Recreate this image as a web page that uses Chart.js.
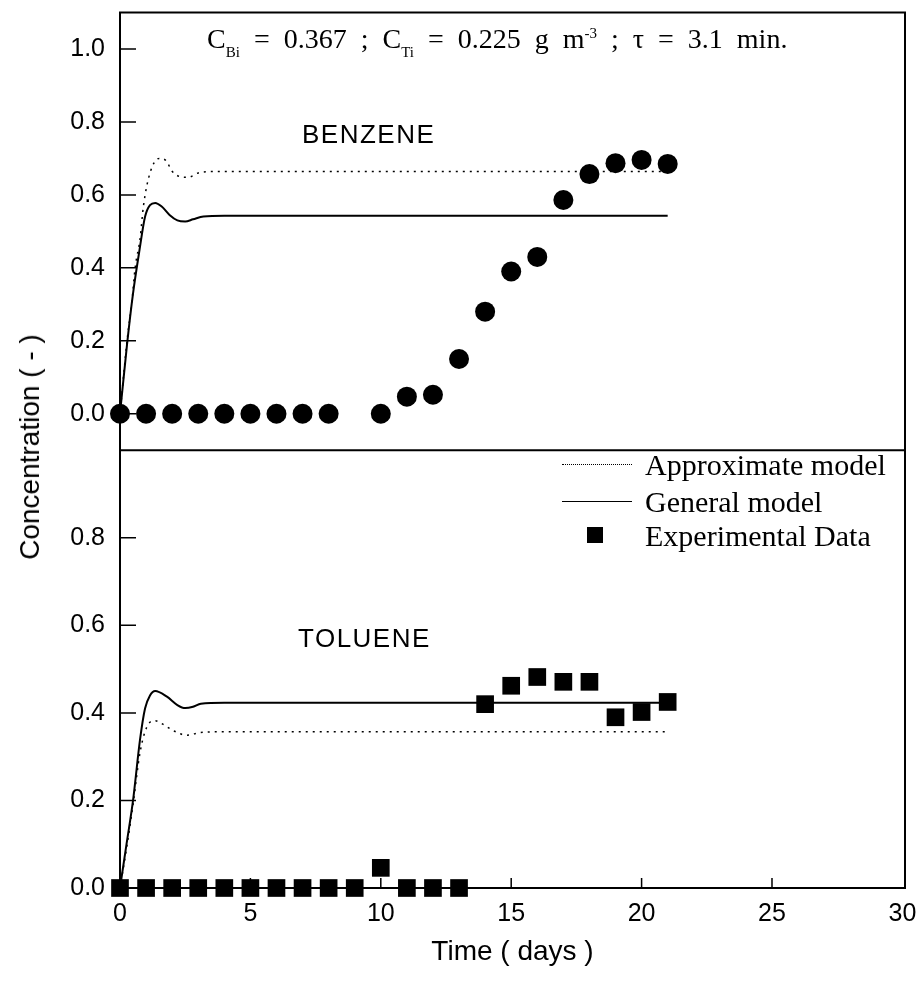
<!DOCTYPE html>
<html>
<head>
<meta charset="utf-8">
<script src="https://cdn.jsdelivr.net/npm/chart.js@4.4.1/dist/chart.umd.min.js"></script>
<style>
html,body{margin:0;padding:0;background:#fff;}
#wrap{position:relative;width:921px;height:990px;overflow:hidden;}
#c{position:absolute;left:0;top:0;}
.t{position:absolute;white-space:nowrap;color:#000;}
.serif{font-family:"Liberation Serif","Times New Roman",serif;}
.sans{font-family:"Liberation Sans",Arial,sans-serif;}
</style>
</head>
<body>
<div id="wrap">
<canvas id="c" width="921" height="990"></canvas>
<div class="t serif" style="left:207px;top:25px;font-size:28px;line-height:28px;word-spacing:7px;">C<span style="font-size:15px;position:relative;top:9px;">Bi</span> = 0.367 ; C<span style="font-size:15px;position:relative;top:9px;">Ti</span> = 0.225 g m<span style="font-size:15px;position:relative;top:-10px;">-3</span> ; τ = 3.1 min.</div>
<div class="t sans" style="left:302px;top:119px;font-size:26px;line-height:30px;letter-spacing:1.5px;">BENZENE</div>
<div class="t sans" style="left:298px;top:623px;font-size:26px;line-height:30px;letter-spacing:1.5px;">TOLUENE</div>
<div class="t sans" style="left:30px;top:447px;font-size:28px;line-height:32px;transform:translate(-50%,-50%) rotate(-90deg);">Concentration ( - )</div>
<div class="t" style="left:562px;top:464px;width:70px;border-top:1.5px dotted #000;"></div>
<div class="t" style="left:562px;top:501px;width:70px;border-top:1.5px solid #000;"></div>
<div class="t" style="left:587px;top:527px;width:16px;height:16px;background:#000;"></div>
<div class="t serif" style="left:645px;top:450px;font-size:30px;line-height:30px;">Approximate model</div>
<div class="t serif" style="left:645px;top:487px;font-size:30px;line-height:30px;">General model</div>
<div class="t serif" style="left:645px;top:521px;font-size:30px;line-height:30px;">Experimental Data</div>
</div>
<script>
// ---- data ----
const xTicks = [0, 5, 10, 15, 20, 25, 30];
const benzTicks = [0.0, 0.2, 0.4, 0.6, 0.8, 1.0];
const tolTicks = [0.0, 0.2, 0.4, 0.6, 0.8];

const benzDays = [0,1,2,3,4,5,6,7,8,10,11,12,13,14,15,16,17,18,19,20,21];
const benzExp  = [0,0,0,0,0,0,0,0,0,0,0.047,0.052,0.15,0.28,0.39,0.43,0.586,0.657,0.687,0.696,0.685];

const tolDays = [0,1,2,3,4,5,6,7,8,9,10,11,12,13,14,15,16,17,18,19,20,21];
const tolExp  = [0,0,0,0,0,0,0,0,0,0,0.046,0,0,0,0.42,0.462,0.482,0.471,0.471,0.39,0.402,0.425];

const benzGenT = [0,0.27,0.5,0.75,0.96,1.15,1.35,1.6,1.9,2.2,2.5,2.8,3.2,4,21];
const benzGenC = [0,0.19,0.33,0.45,0.54,0.572,0.578,0.568,0.545,0.53,0.527,0.533,0.541,0.543,0.543];

const benzApxT = [0,0.27,0.46,0.58,0.77,0.9,1.15,1.5,1.75,2.0,2.3,2.6,3.0,3.5,21];
const benzApxC = [0,0.2,0.31,0.4,0.48,0.57,0.66,0.70,0.695,0.665,0.65,0.648,0.66,0.664,0.664];

const tolGenT = [0,0.25,0.5,0.77,0.96,1.15,1.35,1.8,2.2,2.5,2.8,3.1,4,21];
const tolGenC = [0,0.1,0.2,0.34,0.41,0.44,0.45,0.437,0.418,0.411,0.414,0.421,0.423,0.423];

const tolApxT = [0,0.25,0.51,0.77,1.03,1.34,1.7,2.03,2.57,3.07,4,21];
const tolApxC = [0,0.09,0.195,0.31,0.368,0.382,0.372,0.36,0.349,0.355,0.357,0.357];

const pts = (xs, ys) => xs.map((x, i) => ({x: x, y: ys[i]}));

const tickFont = {family: "'Liberation Sans', Arial, sans-serif", size: 25};

const framePlugin = {
  id: 'frame',
  afterDraw(chart) {
    const {ctx, chartArea: a, scales} = chart;
    const yB = scales.yB, yT = scales.yT, x = scales.x;
    ctx.save();
    ctx.strokeStyle = '#000';
    ctx.lineWidth = 2;
    ctx.strokeRect(a.left, a.top, a.right - a.left, a.bottom - a.top);
    ctx.beginPath();
    ctx.moveTo(a.left, yB.bottom);
    ctx.lineTo(a.right, yB.bottom);
    ctx.stroke();
    ctx.lineWidth = 1.5;
    ctx.beginPath();
    benzTicks.forEach(v => { const py = yB.getPixelForValue(v); ctx.moveTo(a.left, py); ctx.lineTo(a.left + 16, py); });
    tolTicks.forEach(v => { const py = yT.getPixelForValue(v); ctx.moveTo(a.left, py); ctx.lineTo(a.left + 16, py); });
    xTicks.slice(1, -1).forEach(v => { const px = x.getPixelForValue(v); ctx.moveTo(px, a.bottom); ctx.lineTo(px, a.bottom - 10); });
    ctx.stroke();
    ctx.restore();
  }
};

const yFit = s => { s.width = 120; s.paddingTop = 0; s.paddingBottom = 0; };

new Chart(document.getElementById('c'), {
  type: 'scatter',
  data: {
    datasets: [
      {label: 'Approximate model', data: pts(benzApxT, benzApxC), yAxisID: 'yB', showLine: true,
       borderColor: '#000', borderWidth: 1.5, borderDash: [2, 5], pointRadius: 0, cubicInterpolationMode: 'monotone', clip: false},
      {label: 'General model', data: pts(benzGenT, benzGenC), yAxisID: 'yB', showLine: true,
       borderColor: '#000', borderWidth: 2, pointRadius: 0, cubicInterpolationMode: 'monotone', clip: false},
      {label: 'Benzene data', data: pts(benzDays, benzExp), yAxisID: 'yB', showLine: false,
       pointStyle: 'circle', pointRadius: 10, backgroundColor: '#000', borderColor: '#000', borderWidth: 0, clip: false},
      {label: 'Approximate model', data: pts(tolApxT, tolApxC), yAxisID: 'yT', showLine: true,
       borderColor: '#000', borderWidth: 1.5, borderDash: [2, 5], pointRadius: 0, cubicInterpolationMode: 'monotone', clip: false},
      {label: 'General model', data: pts(tolGenT, tolGenC), yAxisID: 'yT', showLine: true,
       borderColor: '#000', borderWidth: 2, pointRadius: 0, cubicInterpolationMode: 'monotone', clip: false},
      {label: 'Experimental Data', data: pts(tolDays, tolExp), yAxisID: 'yT', showLine: false,
       pointStyle: 'rect', pointRadius: 12.5, backgroundColor: '#000', borderColor: '#000', borderWidth: 0, clip: false}
    ]
  },
  options: {
    responsive: false,
    animation: false,
    events: [],
    layout: {padding: {left: 0, right: 16, top: 12, bottom: 0}},
    plugins: {legend: {display: false}, tooltip: {enabled: false}},
    scales: {
      x: {
        type: 'linear', position: 'bottom', min: 0, max: 30.1,
        afterBuildTicks: s => { s.ticks = xTicks.map(v => ({value: v})); },
        afterFit: s => { s.height = 102; s.paddingLeft = 0; s.paddingRight = 0; },
        grid: {display: false, drawTicks: false}, border: {display: false},
        ticks: {padding: 11, font: tickFont, color: '#000', maxRotation: 0, autoSkip: false, callback: v => String(v)},
        title: {display: true, text: 'Time ( days )', color: '#000',
                font: {family: "'Liberation Sans', Arial, sans-serif", size: 28}, padding: {top: 0, bottom: 21}}
      },
      yT: {
        type: 'linear', position: 'left', stack: 'panels', stackWeight: 1, min: 0, max: 1.0,
        afterBuildTicks: s => { s.ticks = tolTicks.map(v => ({value: v})); },
        afterFit: yFit,
        grid: {display: false, drawTicks: false}, border: {display: false},
        ticks: {padding: 15, font: tickFont, color: '#000', callback: v => v.toFixed(1)}
      },
      yB: {
        type: 'linear', position: 'left', stack: 'panels', stackWeight: 1, min: -0.1, max: 1.1,
        afterBuildTicks: s => { s.ticks = benzTicks.map(v => ({value: v})); },
        afterFit: yFit,
        grid: {display: false, drawTicks: false}, border: {display: false},
        ticks: {padding: 15, font: tickFont, color: '#000', callback: v => v.toFixed(1)}
      }
    }
  },
  plugins: [framePlugin]
});
</script>
</body>
</html>
